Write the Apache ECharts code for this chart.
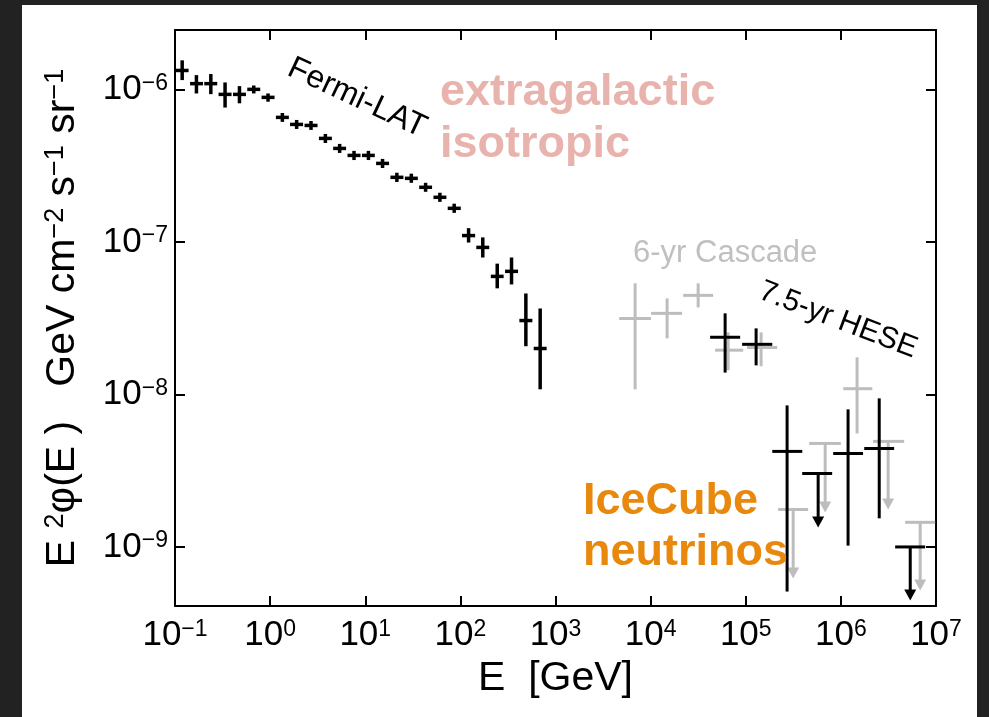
<!DOCTYPE html>
<html><head><meta charset="utf-8">
<script src="https://cdn.jsdelivr.net/npm/echarts@6/dist/echarts.min.js"></script>
<style>html,body{margin:0;padding:0;background:#222;} #c{width:989px;height:717px;}</style>
</head><body><div id="c"></div>
<script>
// ---------- Fermi-LAT (black crosses) ----------
const fermiE   = [0.119,0.168,0.238,0.336,0.476,0.673,0.951,1.345,1.90,2.69,3.81,5.38,7.62,10.8,15.2,21.5,30.5,43.1,60.9,86.1,122,172,244,345,488,690];
const fermiELo = [0.102,0.144,0.203,0.287,0.407,0.575,0.813,1.150,1.62,2.30,3.26,4.60,6.51,9.23,13.0,18.4,26.1,36.9,52.1,73.6,104,147,209,295,417,590];
const fermiEHi = [0.139,0.197,0.278,0.393,0.557,0.787,1.113,1.574,2.22,3.15,4.46,6.29,8.92,12.6,17.8,25.2,35.7,50.4,71.3,101,143,201,285,404,571,807];
const fermiY   = [1.33e-6,1.09e-6,1.09e-6,9.27e-7,9.27e-7,1.00e-6,8.86e-7,6.55e-7,5.89e-7,5.80e-7,4.77e-7,4.10e-7,3.69e-7,3.69e-7,3.27e-7,2.65e-7,2.61e-7,2.28e-7,1.96e-7,1.66e-7,1.10e-7,9.2e-8,5.94e-8,6.41e-8,3.05e-8,2.0e-8];
const fermiYLo = [1.15e-6,9.4e-7,9.3e-7,7.6e-7,8.1e-7,9.4e-7,8.3e-7,6.12e-7,5.50e-7,5.42e-7,4.45e-7,3.83e-7,3.44e-7,3.44e-7,3.05e-7,2.47e-7,2.44e-7,2.13e-7,1.83e-7,1.55e-7,9.9e-8,7.9e-8,4.96e-8,5.26e-8,2.07e-8,1.08e-8];
const fermiYHi = [1.55e-6,1.24e-6,1.26e-6,1.11e-6,1.05e-6,1.06e-6,9.4e-7,7.0e-7,6.30e-7,6.20e-7,5.10e-7,4.39e-7,3.95e-7,3.95e-7,3.50e-7,2.84e-7,2.80e-7,2.44e-7,2.10e-7,1.78e-7,1.23e-7,1.07e-7,7.2e-8,7.9e-8,4.59e-8,3.66e-8];

// ---------- 6-yr Cascade (grey) ----------
const cascE   = [6870,14900,31600,65300,145000,1.48e6];
const cascELo = [4670,10100,22000,47600,103000,1.06e6];
const cascEHi = [10100,21400,45400,94000,214000,2.14e6];
const cascY   = [3.15e-8,3.40e-8,4.46e-8,1.95e-8,2.03e-8,1.09e-8];
const cascYLo = [1.08e-8,2.33e-8,3.72e-8,1.44e-8,1.53e-8,5.55e-9];
const cascYHi = [5.35e-8,4.26e-8,5.35e-8,2.55e-8,2.55e-8,1.75e-8];
// cascade upper limits
const cascUlE   = [315000,684000,3.14e6,6.82e6];
const cascUlELo = [219000,465000,2.18e6,4.74e6];
const cascUlEHi = [453000,1.0e6,4.63e6,9.8e6];
const cascUlY   = [1.76e-9,4.77e-9,4.92e-9,1.45e-9];
const cascUlTip = [6.2e-10,1.68e-9,1.76e-9,5.19e-10];

// ---------- 7.5-yr HESE (black) ----------
const heseE   = [60700,128500,272000,1.19e6,2.53e6];
const heseELo = [42200,91600,190000,830000,1.76e6];
const heseEHi = [87300,190000,393000,1.71e6,3.63e6];
const heseY   = [2.37e-8,2.13e-8,4.23e-9,4.10e-9,4.42e-9];
const heseYLo = [1.39e-8,1.55e-8,5.1e-10,1.02e-9,1.54e-9];
const heseYHi = [3.40e-8,2.71e-8,8.47e-9,7.98e-9,9.42e-9];
// HESE upper limits
const heseUlE   = [577000,5.36e6];
const heseUlELo = [392000,3.72e6];
const heseUlEHi = [810000,7.69e6];
const heseUlY   = [3.03e-9,1.0e-9];
const heseUlTip = [1.34e-9,4.45e-10];

// ---------- axes ----------
const xMin = 0.1, xMax = 1e7;
const yMin = 4.1e-10, yMax = 2.45e-6;

const BLACK = '#000000', GREY = '#bdbdbd';

function zipErr(E, ELo, EHi, Y, YLo, YHi) {
  return E.map((e, i) => [e, Y[i], ELo[i], EHi[i], YLo[i], YHi[i]]);
}
function zipUl(E, ELo, EHi, Y, Tip) {
  return E.map((e, i) => [e, Y[i], ELo[i], EHi[i], Tip[i]]);
}

function errRenderer(color, lw) {
  return function (params, api) {
    const x = api.value(0), y = api.value(1);
    const a = api.coord([api.value(2), y]), b = api.coord([api.value(3), y]);
    const c = api.coord([x, api.value(4)]), d = api.coord([x, api.value(5)]);
    const st = { stroke: color, lineWidth: lw };
    return { type: 'group', children: [
      { type: 'line', shape: { x1: a[0], y1: a[1], x2: b[0], y2: b[1] }, style: st },
      { type: 'line', shape: { x1: c[0], y1: c[1], x2: d[0], y2: d[1] }, style: st }
    ]};
  };
}
function ulRenderer(color, lw) {
  return function (params, api) {
    const x = api.value(0), y = api.value(1);
    const a = api.coord([api.value(2), y]), b = api.coord([api.value(3), y]);
    const top = api.coord([x, y]), tip = api.coord([x, api.value(4)]);
    const st = { stroke: color, lineWidth: lw };
    return { type: 'group', children: [
      { type: 'line', shape: { x1: a[0], y1: a[1], x2: b[0], y2: b[1] }, style: st },
      { type: 'line', shape: { x1: top[0], y1: top[1], x2: tip[0], y2: tip[1] - 8 }, style: st },
      { type: 'polygon', shape: { points: [[tip[0] - 6, tip[1] - 11], [tip[0] + 6, tip[1] - 11], [tip[0], tip[1]]] }, style: { fill: color } }
    ]};
  };
}

function expLabel(v) {
  const l = Math.log10(v), e = Math.round(l);
  if (Math.abs(l - e) > 1e-6) return '';
  return '{b|10}{s|' + (e < 0 ? '\u2212' + (-e) : e) + '}';
}
const FONT = 'Liberation Sans, Arial, Helvetica, sans-serif';
const tickRich = {
  b: { fontSize: 35, fontFamily: FONT, color: '#000', verticalAlign: 'bottom' },
  s: { fontSize: 23, fontFamily: FONT, color: '#000', verticalAlign: 'top' }
};

function axisCommon() {
  return {
    axisLine: { show: true, lineStyle: { color: '#000', width: 2 } },
    axisTick: { show: true, inside: true, length: 10, lineStyle: { color: '#000', width: 2 } },
    minorTick: { show: false },
    splitLine: { show: false },
    minorSplitLine: { show: false }
  };
}

const chart = echarts.init(document.getElementById('c'), null, { renderer: 'canvas' });
chart.setOption({
  animation: false,
  backgroundColor: '#222222',
  grid: { left: 175, right: 53, top: 30, bottom: 111, containLabel: false },
  graphic: [
    { type: 'rect', z: -100, shape: { x: 22, y: 5, width: 955, height: 712 }, style: { fill: '#ffffff' }, silent: true },
    { type: 'text', x: 357, y: 98, rotation: -25 * Math.PI / 180, z: 10,
      style: { text: 'Fermi-LAT', fontSize: 32, fontFamily: FONT, fill: '#000', align: 'center', verticalAlign: 'middle' } },
    { type: 'text', x: 440, y: 93, z: 10,
      style: { text: 'extragalactic', fontSize: 45, fontWeight: 'bold', fontFamily: FONT, fill: '#e8b3ad', align: 'left', verticalAlign: 'middle' } },
    { type: 'text', x: 440, y: 145, z: 10,
      style: { text: 'isotropic', fontSize: 45, fontWeight: 'bold', fontFamily: FONT, fill: '#e8b3ad', align: 'left', verticalAlign: 'middle' } },
    { type: 'text', x: 633, y: 253, z: 10,
      style: { text: '6-yr Cascade', fontSize: 31, fontFamily: FONT, fill: '#c0c0c0', align: 'left', verticalAlign: 'middle' } },
    { type: 'text', x: 838, y: 320, rotation: -21 * Math.PI / 180, z: 10,
      style: { text: '7.5-yr HESE', fontSize: 30, fontFamily: FONT, fill: '#000', align: 'center', verticalAlign: 'middle' } },
    { type: 'text', x: 583, y: 502, z: 10,
      style: { text: 'IceCube', fontSize: 45, fontWeight: 'bold', fontFamily: FONT, fill: '#e8890e', align: 'left', verticalAlign: 'middle' } },
    { type: 'text', x: 583, y: 553, z: 10,
      style: { text: 'neutrinos', fontSize: 45, fontWeight: 'bold', fontFamily: FONT, fill: '#e8890e', align: 'left', verticalAlign: 'middle' } }
  ],
  xAxis: [
    Object.assign({
      type: 'log', logBase: 10, min: xMin, max: xMax, position: 'bottom',
      name: 'E  [GeV]', nameLocation: 'middle', nameGap: 48,
      nameTextStyle: { fontSize: 41, fontFamily: FONT, color: '#000' },
      axisLabel: { show: true, margin: 12, formatter: expLabel, rich: tickRich, color: '#000' }
    }, axisCommon()),
    Object.assign({
      type: 'log', logBase: 10, min: xMin, max: xMax, position: 'top',
      axisLabel: { show: false }
    }, axisCommon())
  ],
  yAxis: [
    Object.assign({
      type: 'log', logBase: 10, min: yMin, max: yMax, position: 'left',
      name: 'E {s|2}\u03c6(E )   GeV cm{s|\u22122} s{s|\u22121} sr{s|\u22121}',
      nameLocation: 'middle', nameGap: 92, nameRotate: 90,
      nameTextStyle: { fontSize: 41, fontFamily: FONT, color: '#000',
        rich: { s: { fontSize: 27, fontFamily: FONT, color: '#000', verticalAlign: 'top' } } },
      axisLabel: { show: true, margin: 7, formatter: expLabel, rich: tickRich, color: '#000' }
    }, axisCommon()),
    Object.assign({
      type: 'log', logBase: 10, min: yMin, max: yMax, position: 'right',
      axisLabel: { show: false }
    }, axisCommon())
  ],
  series: [
    { type: 'custom', name: 'Cascade', xAxisIndex: 0, yAxisIndex: 0, renderItem: errRenderer(GREY, 3),
      data: zipErr(cascE, cascELo, cascEHi, cascY, cascYLo, cascYHi), z: 2 },
    { type: 'custom', name: 'Cascade UL', xAxisIndex: 0, yAxisIndex: 0, renderItem: ulRenderer(GREY, 3),
      data: zipUl(cascUlE, cascUlELo, cascUlEHi, cascUlY, cascUlTip), z: 2 },
    { type: 'custom', name: 'Fermi-LAT', xAxisIndex: 0, yAxisIndex: 0, renderItem: errRenderer(BLACK, 3.5),
      data: zipErr(fermiE, fermiELo, fermiEHi, fermiY, fermiYLo, fermiYHi), z: 3 },
    { type: 'custom', name: 'HESE', xAxisIndex: 0, yAxisIndex: 0, renderItem: errRenderer(BLACK, 3),
      data: zipErr(heseE, heseELo, heseEHi, heseY, heseYLo, heseYHi), z: 3 },
    { type: 'custom', name: 'HESE UL', xAxisIndex: 0, yAxisIndex: 0, renderItem: ulRenderer(BLACK, 3),
      data: zipUl(heseUlE, heseUlELo, heseUlEHi, heseUlY, heseUlTip), z: 3 }
  ]
});
</script></body></html>
